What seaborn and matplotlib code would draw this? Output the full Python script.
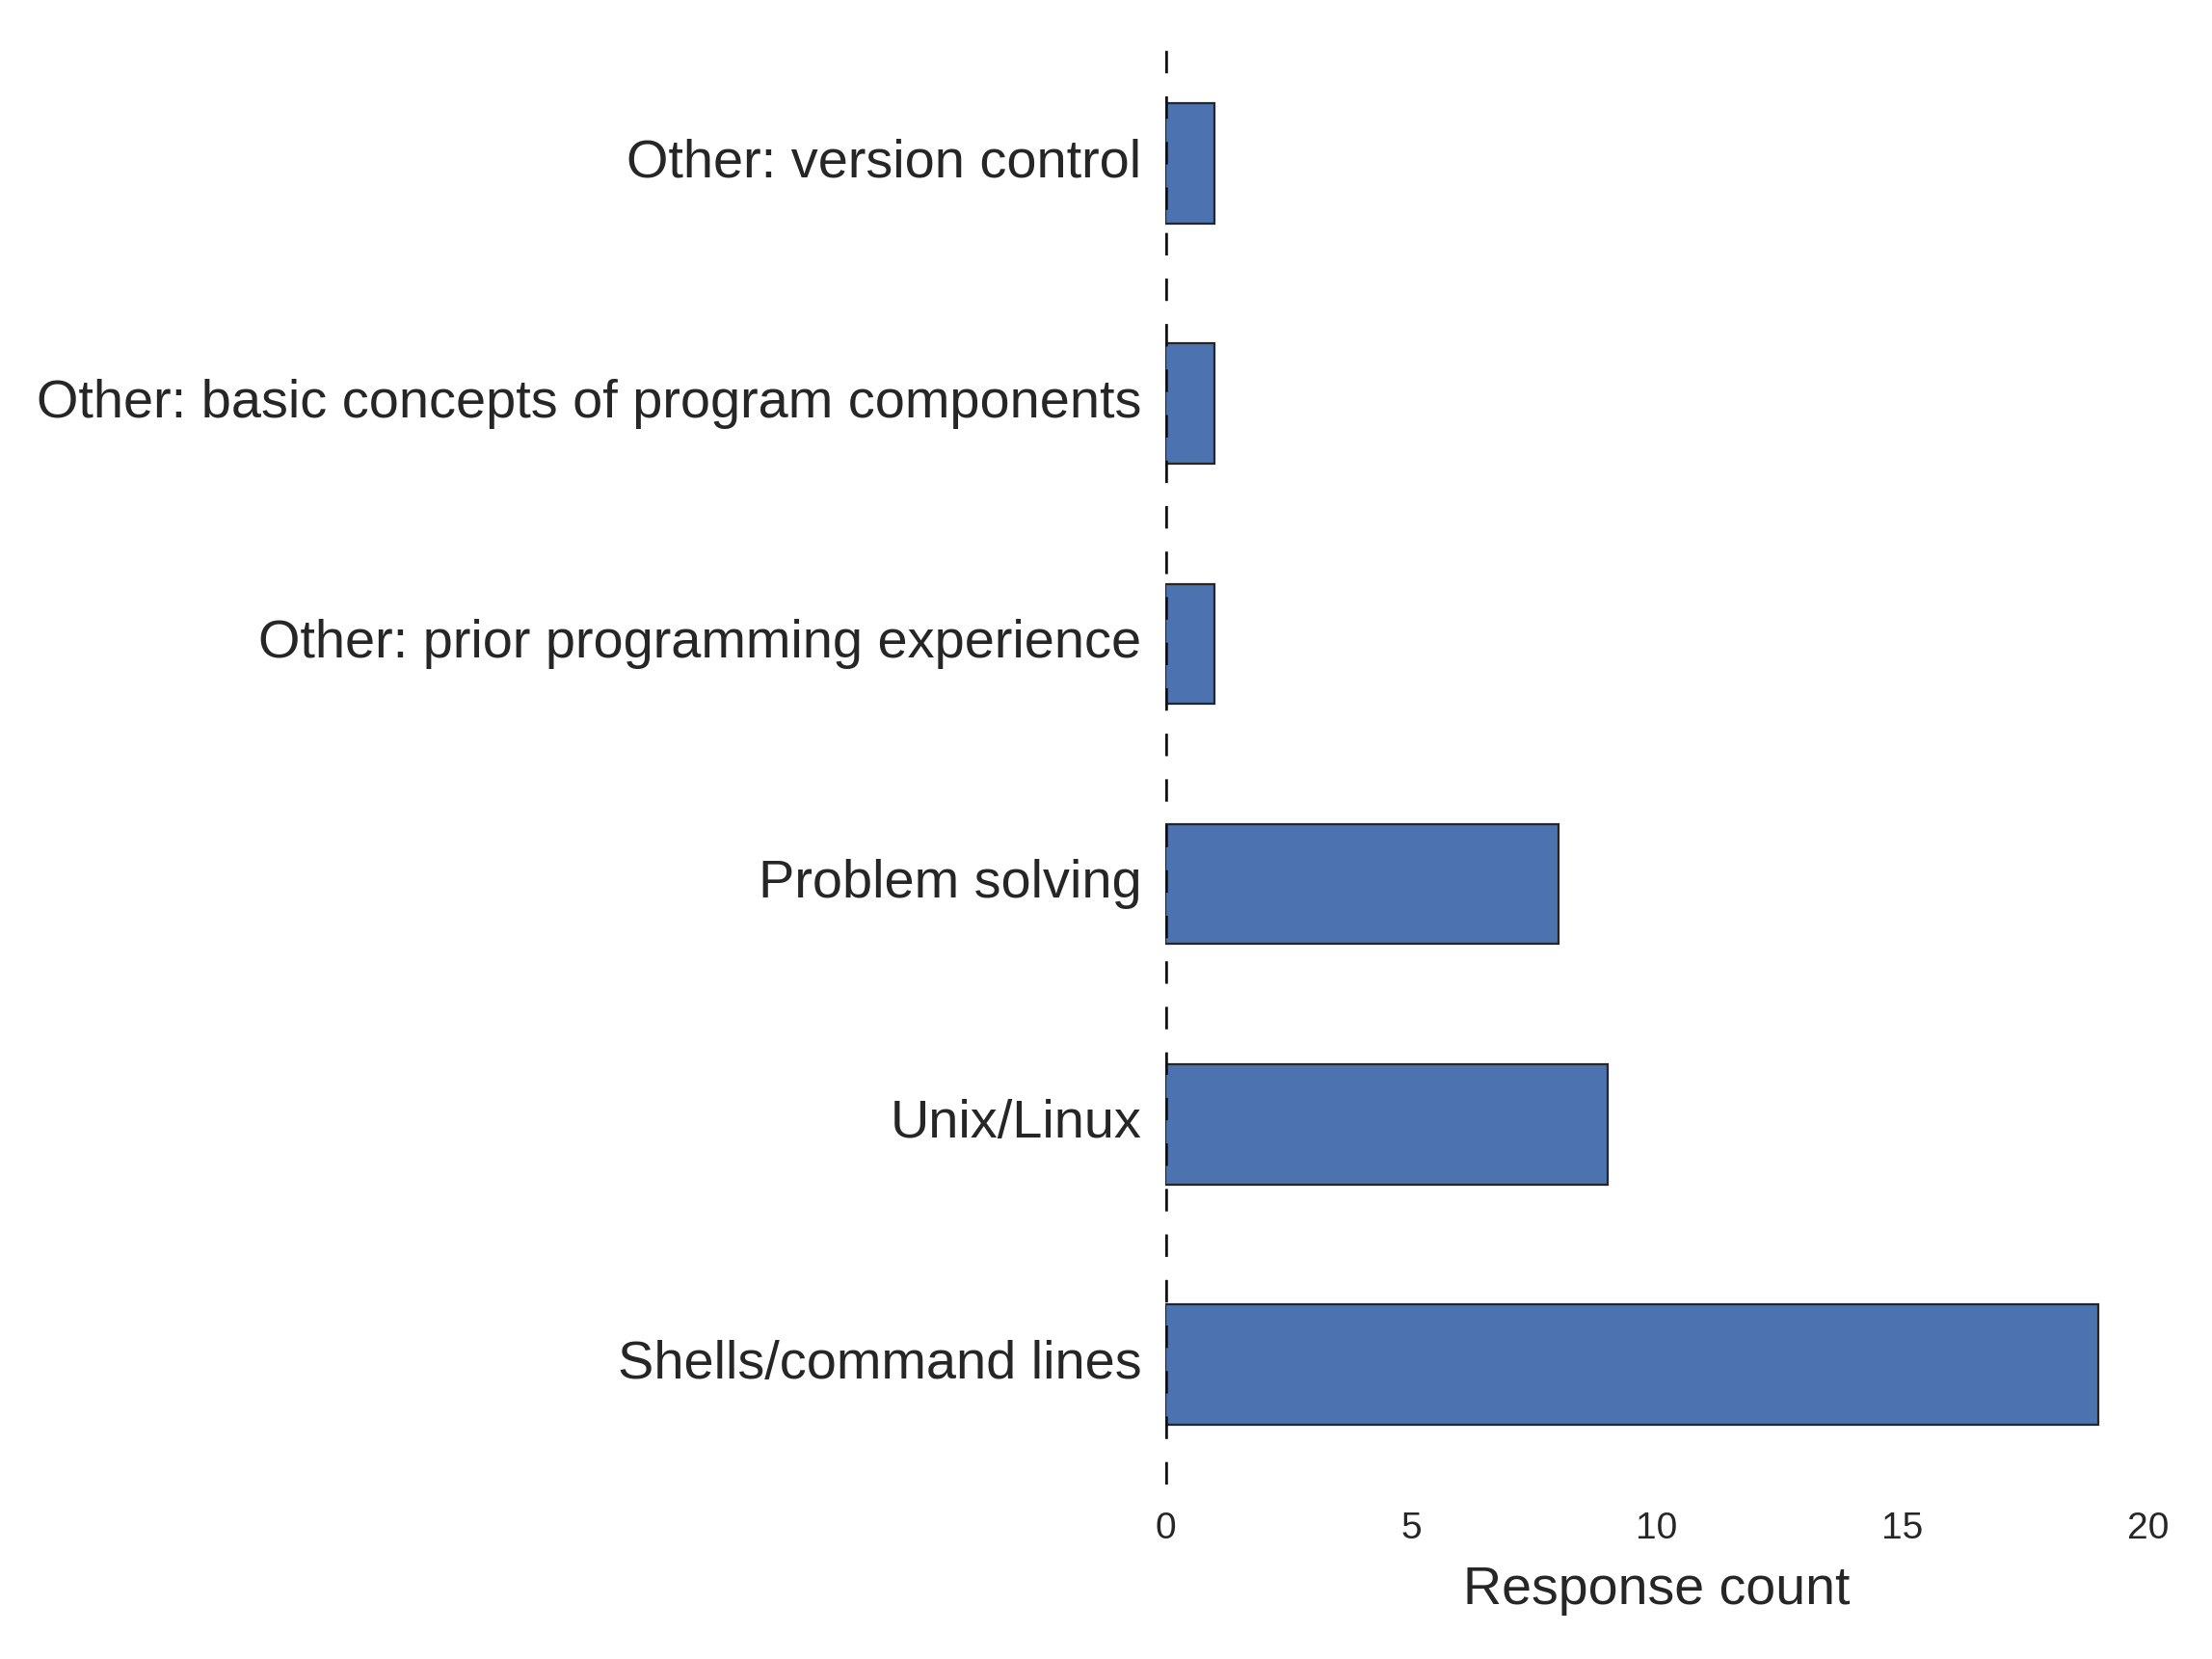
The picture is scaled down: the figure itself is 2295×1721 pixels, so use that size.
import matplotlib
matplotlib.use("Agg")
import matplotlib.pyplot as plt
import pandas as pd
import seaborn as sns

# survey answers, top to bottom as drawn
TOPICS = [
    "Other: version control",
    "Other: basic concepts of program components",
    "Other: prior programming experience",
    "Problem solving",
    "Unix/Linux",
    "Shells/command lines",
]
COUNTS = [1, 1, 1, 8, 9, 19]
X_TICKS = [0, 5, 10, 15, 20]

INK = "#262626"
BAR = "#4C72B0"

sns.set_theme(style="white")
plt.rcParams["font.family"] = ["Liberation Sans", "DejaVu Sans"]
plt.rcParams["text.color"] = INK
plt.rcParams["axes.labelcolor"] = INK

df = pd.DataFrame({"topic": TOPICS, "count": COUNTS})

fig = plt.figure(figsize=(11.475, 8.605), dpi=200)
ax = fig.add_axes([0.527, 0.105, 0.444, 0.869])

sns.barplot(
    data=df,
    x="count",
    y="topic",
    order=TOPICS,
    color=BAR,
    saturation=1,
    width=0.5,
    edgecolor=INK,
    linewidth=0.8,
    ax=ax,
)
ax.axvline(0, color="#111111", linewidth=2.0, linestyle=(0, (4.2, 4.3)), zorder=5)

ax.set_xlim(0, 20)
ax.set_ylim(5.5, -0.5)
ax.set_xticks(X_TICKS)
ax.set_xlabel("Response count", fontsize=20, labelpad=7)
ax.set_ylabel("")
ax.tick_params(axis="x", labelsize=14, length=0, pad=10, colors=INK)
ax.tick_params(axis="y", labelsize=20.1, length=0, pad=9, colors=INK)
for lab in ax.get_yticklabels():
    lab.set_va("center")
for side in ["top", "right", "bottom", "left"]:
    ax.spines[side].set_visible(False)

fig.savefig("out.png", dpi=200)
